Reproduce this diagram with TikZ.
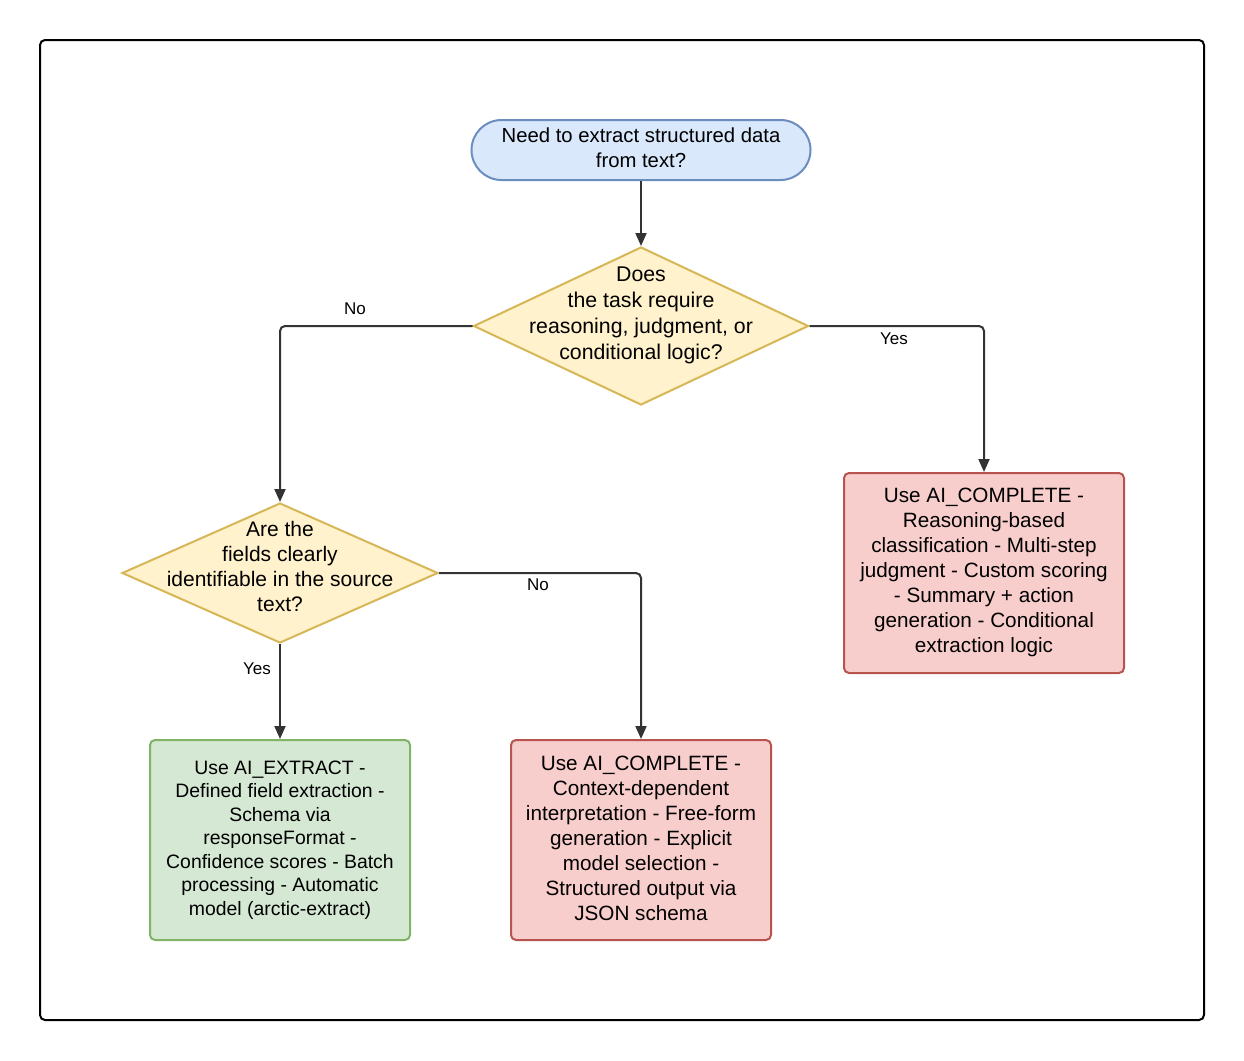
\documentclass[tikz,border=0pt]{standalone}
\usepackage{fontspec}
\setmainfont{Liberation Sans}
\usetikzlibrary{arrows.meta, shapes.geometric}
\definecolor{startfill}{HTML}{DAE8FC}
\definecolor{startline}{HTML}{6C8EBF}
\definecolor{askfill}{HTML}{FFF2CC}
\definecolor{askline}{HTML}{D6B656}
\definecolor{redfill}{HTML}{F8CECC}
\definecolor{redline}{HTML}{B85450}
\definecolor{greenfill}{HTML}{D5E8D4}
\definecolor{greenline}{HTML}{82B366}
\definecolor{flowgray}{HTML}{333333}
\tikzset{
  txt/.style={align=center, font=\fontsize{20.7}{25}\selectfont, inner sep=0pt},
  asktxt/.style={txt, font=\fontsize{21.3}{26}\selectfont},
  startbox/.style={draw=startline, fill=startfill, line width=2pt, rounded corners=30pt,
    minimum width=339pt, minimum height=60pt},
  askbox/.style={diamond, draw=askline, fill=askfill, line width=2pt, inner sep=0pt},
  redbox/.style={draw=redline, fill=redfill, line width=2pt, rounded corners=5pt,
    minimum width=260pt, minimum height=200pt},
  greenbox/.style={redbox, draw=greenline, fill=greenfill},
  flow/.style={draw=flowgray, line width=2pt, rounded corners=5pt, -{Triangle[length=13pt, width=11pt]}},
  lbl/.style={font=\fontsize{17}{20}\selectfont, inner sep=0pt}
}

\begin{document}
\begin{tikzpicture}[x=1pt, y=-1pt]
  \useasboundingbox (0,0) rectangle (1244,1060);
  % frame
  \draw[line width=2pt, rounded corners=5pt] (40,40) rectangle (1204,1020);

  \node[startbox] (start) at (641,150) {};
  \node[txt, font=\fontsize{20.3}{25}\selectfont] (starttext) at (641,148) {Need to extract structured data\\from text?};

  \node[askbox, minimum width=335pt, minimum height=158pt] (d1) at (641,326) {};
  \node[asktxt] (d1text) at (641,315.5) {Does\\the task require\\reasoning, judgment, or\\conditional logic?};

  \node[askbox, minimum width=316pt, minimum height=140pt] (d2) at (280,573) {};
  \node[asktxt, font=\fontsize{21}{25}\selectfont] (d2text) at (280,566) {Are the\\fields clearly\\identifiable in the source\\text?};

  \node[redbox, minimum width=280pt] (reason) at (984,573) {};
  \node[txt] (reasontext) at (984,572)
    {Use AI\_COMPLETE -\\Reasoning-based\\classification - Multi-step\\judgment - Custom scoring\\- Summary + action\\generation - Conditional\\extraction logic};
  \node[greenbox] (extract) at (280,840) {};
  \node[txt, font=\fontsize{19.4}{23.5}\selectfont] (extracttext) at (280,840)
    {Use AI\_EXTRACT -\\Defined field extraction -\\Schema via\\responseFormat -\\Confidence scores - Batch\\processing - Automatic\\model (arctic-extract)};
  \node[redbox] (complete) at (641,840) {};
  \node[txt] (completetext) at (641,838)
    {Use AI\_COMPLETE -\\Context-dependent\\interpretation - Free-form\\generation - Explicit\\model selection -\\Structured output via\\JSON schema};

  % connectors
  \draw[flow] (start) -- (d1.north);
  \draw[flow] (d1.west) -| (d2.north);
  \draw[flow] (d1.east) -| (reason.north);
  \draw[flow] (d2.east) -| (complete.north);
  \draw[flow] (d2.south) -- (extract.north);

  \node[lbl] at (355,309) {No};
  \node[lbl] at (894,339) {Yes};
  \node[lbl] at (538,585) {No};
  \node[lbl] at (257,669) {Yes};
\end{tikzpicture}
\end{document}
